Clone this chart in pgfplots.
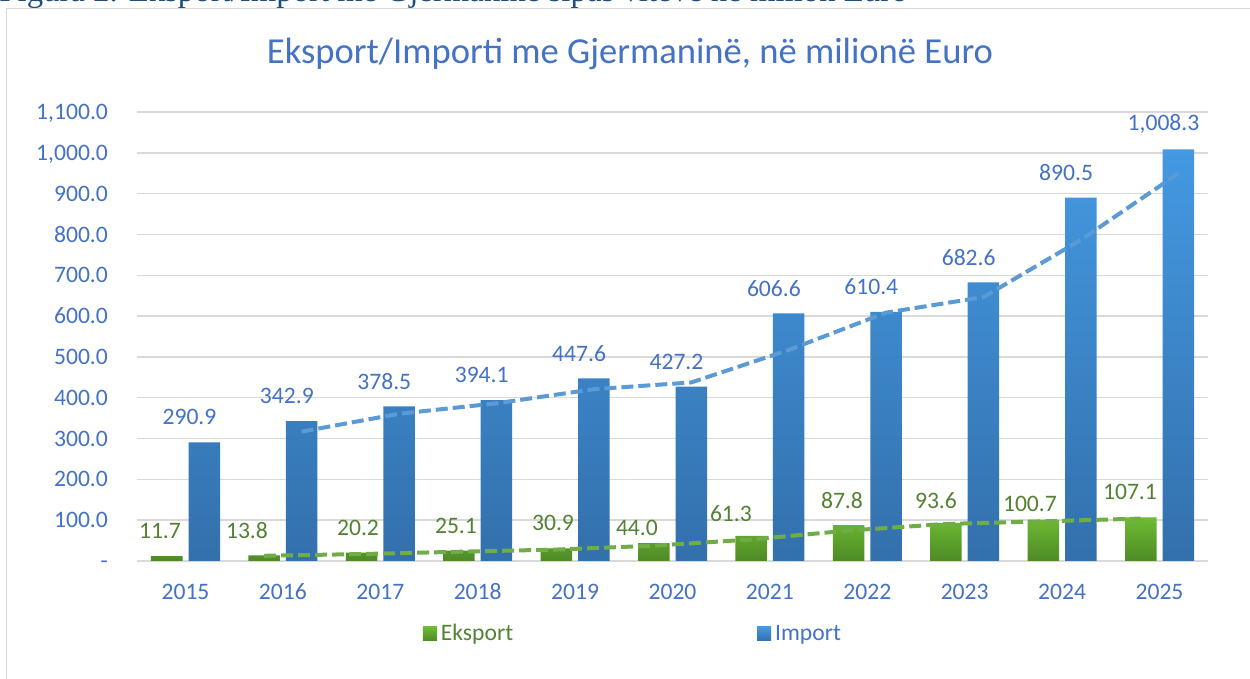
\documentclass[border=0pt]{standalone}
\usepackage{fontspec}
\setmainfont{Carlito}
\newfontfamily\capfont{Liberation Serif}
\usepackage{pgfplots}
\pgfplotsset{compat=1.18}
\definecolor{titleBlue}{HTML}{4472C4}
\definecolor{tickBlue}{HTML}{4472C4}
\definecolor{eksText}{HTML}{548235}
\definecolor{impText}{HTML}{4472C4}
\definecolor{eksTop}{HTML}{6EBB34}
\definecolor{eksBot}{HTML}{4E8A26}
\definecolor{impTop}{HTML}{4499E2}
\definecolor{impBot}{HTML}{3370AC}
\definecolor{trendBlue}{HTML}{5B9BD5}
\definecolor{trendGreen}{HTML}{70AD47}
\definecolor{gridGray}{HTML}{D9D9D9}
\definecolor{capBlue}{HTML}{1F4E79}
\newcommand\tickfont{\fontsize{11.8}{14}\selectfont}
\begin{document}
\begin{tikzpicture}
\useasboundingbox (0,0) rectangle (625pt,339.5pt);
\begin{scope}
\clip (0,0) rectangle (625pt,339.5pt);
\fill[white] (0,0) rectangle (625pt,339.5pt);
\draw[gridGray, line width=0.75pt] (3.25pt,-5pt) -- (3.25pt,335.25pt) -- (630pt,335.25pt);
\node[anchor=base west, inner sep=0pt, text=capBlue, font=\capfont\fontsize{16.4}{18}\selectfont] at (-0.5pt,338.75pt) {Figura 2. Eksport/Import me Gjermaninë sipas viteve në milion Euro};
\node[anchor=base, inner sep=0pt, text=titleBlue, font=\fontsize{18.3}{22}\selectfont] at (315pt,307.5pt) {Eksport/Importi me Gjermaninë, në milionë Euro};
\begin{axis}[
  at={(68.4pt,59pt)}, anchor=south west,
  scale only axis, width=535.7pt, height=224.5pt,
  xmin=-0.5, xmax=10.5, ymin=0, ymax=1100,
  axis line style={draw=none},
  major tick length=0pt,
  ymajorgrids, grid style={gridGray, line width=0.75pt},
  xtick={0,1,2,3,4,5,6,7,8,9,10},
  xticklabels={2015,2016,2017,2018,2019,2020,2021,2022,2023,2024,2025},
  ytick={0,100,200,300,400,500,600,700,800,900,1000,1100},
  yticklabels={{-\hspace{5pt}},100.0,200.0,300.0,400.0,500.0,600.0,700.0,800.0,900.0,{1,000.0},{1,100.0}},
  xticklabel style={anchor=base, yshift=-19.5pt, inner sep=0pt, text=tickBlue, font=\tickfont},
  yticklabel style={anchor=base east, yshift=-3.8pt, xshift=-14.25pt, inner sep=0pt, text=tickBlue, font=\tickfont},
  clip=false,
  /pgf/number format/assume math mode=true,
  legend style={draw=none, fill=none, at={(0.464,-0.1626)}, anchor=center, legend columns=2, font=\tickfont, /tikz/every even column/.append style={column sep=120pt}},
  legend cell align=left,
]
\addplot[ybar, bar width=15.75pt, bar shift=-9.375pt, draw=none, top color=eksTop, bottom color=eksBot,
  legend image code/.code={\path[top color=eksTop,bottom color=eksBot] (0pt,-3.5pt) rectangle (7pt,3.5pt);}]
  coordinates {(0,11.7) (1,13.8) (2,20.2) (3,25.1) (4,30.9) (5,44.0) (6,61.3) (7,87.8) (8,93.6) (9,100.7) (10,107.1)};
\addlegendentry{\textcolor{eksText}{Eksport}}
\addplot[ybar, bar width=15.75pt, bar shift=9.375pt, draw=none, top color=impTop, bottom color=impBot,
  legend image code/.code={\path[top color=impTop,bottom color=impBot] (0pt,-3.5pt) rectangle (7pt,3.5pt);},
  nodes near coords={\pgfmathprintnumber[fixed, fixed zerofill, precision=1, 1000 sep={,}, assume math mode=true]{\pgfplotspointmeta}},
  nodes near coords style={anchor=center, yshift=12.5pt, xshift=2pt, inner sep=0pt, text=impText, font=\tickfont}]
  coordinates {(0,290.9) (1,342.9) (2,378.5) (3,394.1) (4,447.6) (5,427.2) (6,606.6) (7,610.4) (8,682.6) (9,890.5) (10,1008.3)};
\addlegendentry{\textcolor{impText}{Import}}
% 2-period moving average trendlines
\addplot[forget plot, trendBlue, line width=2pt, dash pattern=on 6pt off 2.5pt, mark=none]
  coordinates {(1.1925,316.9) (2.1925,360.7) (3.1925,386.3) (4.1925,420.85) (5.1925,437.4) (6.1925,516.9) (7.1925,608.5) (8.1925,646.5) (9.1925,786.55) (10.1925,949.4)};
\addplot[forget plot, trendGreen, line width=2pt, dash pattern=on 6pt off 2.5pt, mark=none]
  coordinates {(0.8075,12.75) (1.8075,17.0) (2.8075,22.65) (3.8075,28.0) (4.8075,37.45) (5.8075,52.65) (6.8075,74.55) (7.8075,90.7) (8.8075,97.15) (9.8075,103.9)};
% Eksport data labels (placed as in the reference)
\addplot[forget plot, draw=none, mark=none, nodes near coords, point meta=explicit symbolic,
  nodes near coords style={anchor=center, inner sep=0pt, text=eksText, font=\tickfont}]
  table[meta=label, row sep=\\] {
  x y label\\
  -0.262 74 11.7\\
  0.631 74 13.8\\
  1.771 80.1 20.2\\
  2.777 87 25.1\\
  3.773 92.5 30.9\\
  4.635 80.3 44.0\\
  5.600 115.2 61.3\\
  6.740 148.5 87.8\\
  7.705 147.8 93.6\\
  8.670 139.7 100.7\\
  9.697 169.1 107.1\\
  };
\end{axis}
\end{scope}
\end{tikzpicture}
\end{document}
